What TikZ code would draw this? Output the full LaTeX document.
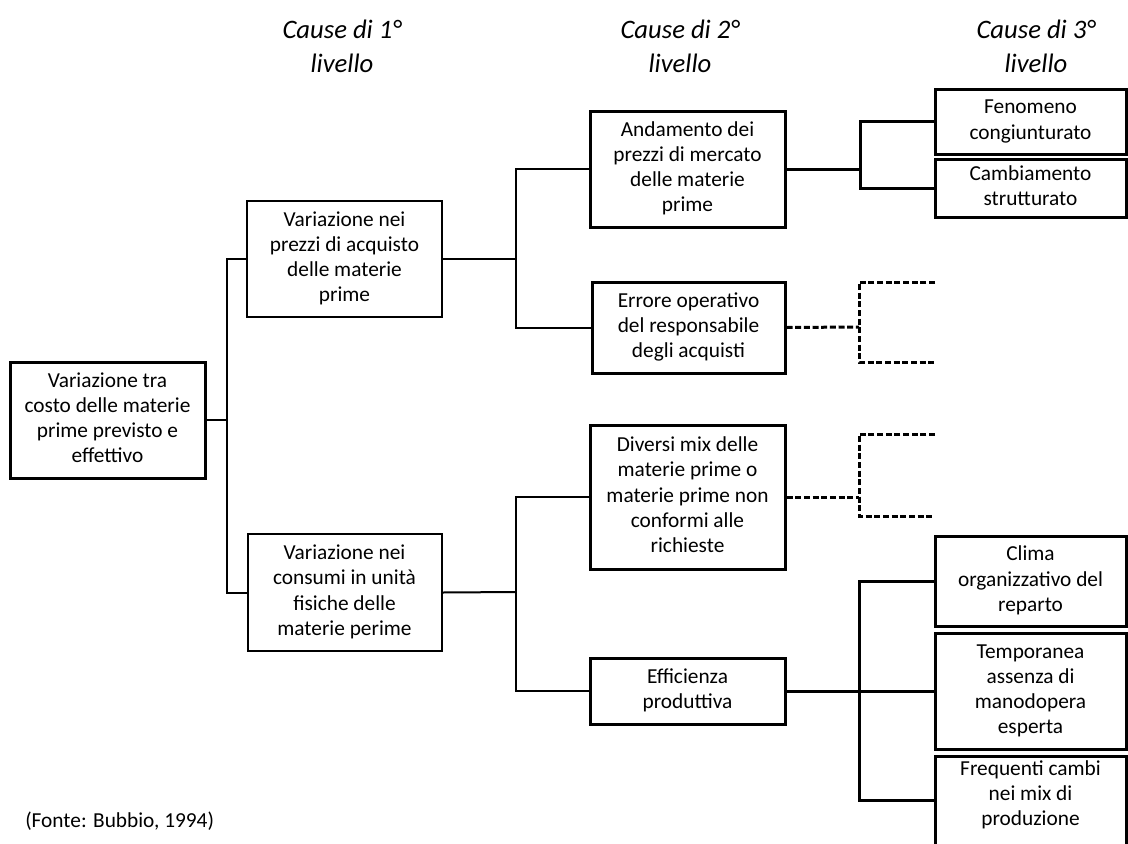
\documentclass[tikz,border=0pt]{standalone}
\usepackage{fontspec}
\setmainfont{Carlito}
\newcommand\bodyfont{\fontsize{16pt}{18.8pt}\selectfont}
\newcommand\headfont{\fontsize{20pt}{25.5pt}\selectfont\itshape}
% centred block of lines, optionally raised inside its box
\newcommand\boxlines[2][0pt]{\raisebox{#1}[\height][\depth]{\begin{tabular}{@{}c@{}}#2\end{tabular}}}

\begin{document}
\begin{tikzpicture}[x=0.75pt,y=-0.75pt,
  box/.style={draw, line width=1.5pt, inner sep=0pt, font=\bodyfont},
  heavybox/.style={box, line width=2.25pt},
  size/.style 2 args={minimum width=#1*0.75pt, minimum height=#2*0.75pt},
  link/.style={line width=1.5pt},
  heavylink/.style={line width=2.25pt},
  openlink/.style={line width=2.25pt, dash pattern=on 4.5pt off 2pt},
  head/.style={align=center, font=\headfont, inner sep=0pt}]
\useasboundingbox (0,0) rectangle (1128,843);

% column headings
\node[head, anchor=north] (h1) at (342,20) {Cause di 1°\\livello};
\node[head, anchor=north] (h2) at (680,20) {Cause di 2°\\livello};
\node[head, anchor=north] (h3) at (1036,20) {Cause di 3°\\livello};

% effect
\node[heavybox, size={195}{116}] (root) at (107.5,420) {\boxlines{Variazione tra\\costo delle materie\\prime previsto e\\effettivo}};

% first level causes
\node[box, size={195}{116}] (a1) at (344.5,259) {\boxlines{Variazione nei\\prezzi di acquisto\\delle materie\\prime}};
\node[box, size={194}{117}] (b1) at (344.5,592.5) {\boxlines{Variazione nei\\consumi in unità\\fisiche delle\\materie perime}};

% second level causes
\node[heavybox, size={195}{116}] (a2) at (687.5,169) {\boxlines{Andamento dei\\prezzi di mercato\\delle materie\\prime}};
\node[heavybox, size={193}{91}] (b2) at (688.5,327.5) {\boxlines{Errore operativo\\del responsabile\\degli acquisti}};
\node[heavybox, size={195}{144}] (c2) at (687.5,497) {\boxlines{Diversi mix delle\\materie prime o\\materie prime non\\conformi alle\\richieste}};
\node[heavybox, size={195}{66}] (d2) at (687.5,691) {\boxlines{Efficienza\\produttiva}};

% third level causes
\node[heavybox, size={191}{65}] (a3) at (1030.5,121.5) {\boxlines{Fenomeno\\congiunturato}};
\node[heavybox, size={191}{58}] (b3) at (1030.5,188) {\boxlines{Cambiamento\\strutturato}};
\node[heavybox, size={191}{90}] (c3) at (1030.5,581) {\boxlines{Clima\\organizzativo del\\reparto}};
\node[heavybox, size={191}{116}] (d3) at (1030.5,691) {\boxlines{Temporanea\\assenza di\\manodopera\\esperta}};
\node[heavybox, size={191}{89}] (e3) at (1030.5,800.5) {\boxlines[4pt]{Frequenti cambi\\nei mix di\\produzione}};

% source
\node[anchor=west, font=\bodyfont, inner sep=0pt] (src) at (25,821) {(Fonte: Bubbio, 1994)};

% junction points
\coordinate (j1) at (227,420);
\coordinate (j2) at (516,259);
\coordinate (j3) at (516,592);
\coordinate (j4) at (860,169);
\coordinate (j5) at (859,691);
\coordinate (k1) at (859,327);
\coordinate (k2) at (859,497);
\coordinate (o1) at (935,282);
\coordinate (o2) at (935,362);
\coordinate (o3) at (935,434);
\coordinate (o4) at (935,516);

% tree connectors
\draw[link] (root.east) -- (j1);
\draw[link] (a1.west) -| (j1) |- (b1.west);
\draw[link] (a1.east) -- (j2);
\draw[link] (a2.west) -| (j2) |- (b2.west);
\draw[link] (b1.east) -- (j3);
\draw[link] (c2.west) -| (j3) |- (d2.west);
\draw[heavylink] (a2.east) -- (j4);
\draw[heavylink] (a3.west) -| (j4) |- (b3.west);
\draw[heavylink] (d2.east) -- (j5);
\draw[heavylink] (c3.west) -| (j5) |- (e3.west);
\draw[heavylink] (j5) -- (d3.west);

% open branches
\draw[openlink] (b2.east) -- (k1);
\draw[openlink] (o1) -| (k1) |- (o2);
\draw[openlink] (c2.east) -- (k2);
\draw[openlink] (o3) -| (k2) |- (o4);
\end{tikzpicture}
\end{document}
